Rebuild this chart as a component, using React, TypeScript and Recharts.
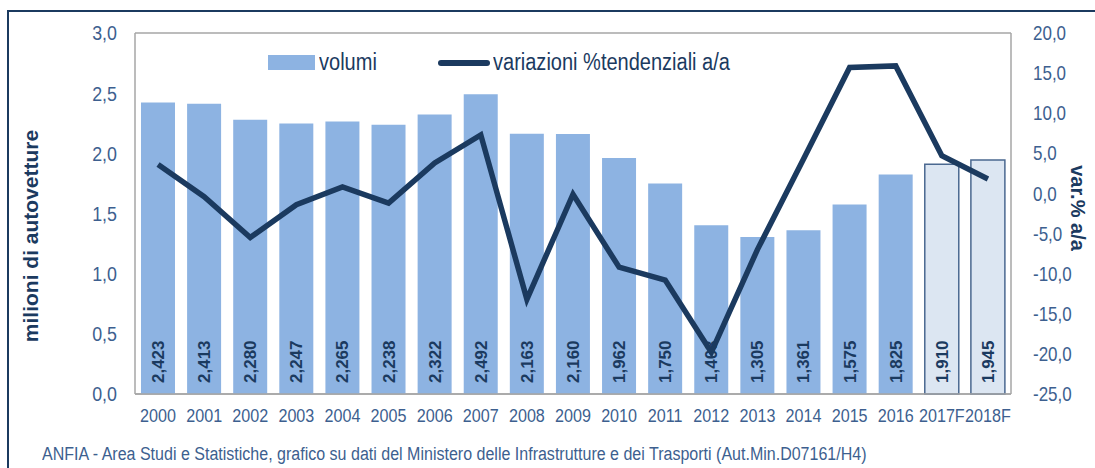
import {
  ComposedChart,
  Bar,
  Line,
  XAxis,
  YAxis,
  CartesianGrid,
  Cell,
  LabelList,
} from "recharts";

const years = [
  "2000", "2001", "2002", "2003", "2004", "2005", "2006", "2007", "2008", "2009",
  "2010", "2011", "2012", "2013", "2014", "2015", "2016", "2017F", "2018F",
];
// immatricolazioni, migliaia di autovetture
const volumi = [
  2423, 2413, 2280, 2247, 2265, 2238, 2322, 2492, 2163, 2160,
  1962, 1750, 1403, 1305, 1361, 1575, 1825, 1910, 1945,
];
// variazioni % tendenziali a/a
const variazioni = [
  3.6, -0.4, -5.5, -1.4, 0.8, -1.2, 3.8, 7.3, -13.2, -0.1,
  -9.2, -10.8, -19.8, -7.0, 4.3, 15.7, 15.9, 4.7, 1.8,
];
const forecast = ["2017F", "2018F"];
const leftTicks = [0, 0.5, 1, 1.5, 2, 2.5, 3];
const rightTicks = [-25, -20, -15, -10, -5, 0, 5, 10, 15, 20];

const data = years.map((y, i) => ({
  anno: y,
  volumi: volumi[i] / 1000,
  label: volumi[i],
  variazione: variazioni[i],
}));

const NAVY = "#1b3a5f";
const TICK = "#3d5f8f";
const BAR = "#8db3e2";
const FONT = "'Liberation Sans', Arial, sans-serif";
const NARROW = 0.85;

const comma = (v: number) => v.toFixed(1).replace(".", ",");
const thousands = (v: number) => v.toLocaleString("en-US");

// testo "narrow": Arial Narrow non c'è, comprimo orizzontalmente
const NarrowTick = (props: any) => {
  const { x, y, payload, textAnchor, fontSize, shift, fmt } = props;
  const txt = fmt ? fmt(payload.value) : payload.value;
  return (
    <g transform={`translate(${x},${y}) scale(${NARROW},1)`}>
      <text x={0} y={0} dy={shift} textAnchor={textAnchor} fill={TICK} fontSize={fontSize} fontFamily={FONT}>
        {txt}
      </text>
    </g>
  );
};

const BarLabel = (props: any) => {
  const { x, y, width, height, value } = props;
  const cx = x + width / 2;
  const bottom = y + height - 11;
  return (
    <text
      x={cx}
      y={bottom}
      transform={`rotate(-90 ${cx} ${bottom})`}
      dy={6}
      textAnchor="start"
      fill={NAVY}
      fontSize={17}
      fontWeight="bold"
      fontFamily={FONT}
    >
      {thousands(value)}
    </text>
  );
};

const narrowDiv = (left: number, top: number, size: number, color: string, scale = NARROW) => ({
  position: "absolute" as const,
  left,
  top,
  fontSize: size,
  color,
  whiteSpace: "nowrap" as const,
  lineHeight: `${size + 3}px`,
  transform: `scaleX(${scale})`,
  transformOrigin: "0 0",
});

export default function App() {
  return (
    <div style={{ position: "relative", width: 1095, height: 468, fontFamily: FONT, background: "#fff" }}>
      <style>{`body{margin:0}`}</style>
      <div
        style={{
          position: "absolute",
          left: 7,
          top: 10,
          right: 0,
          bottom: 0,
          borderLeft: `2px solid ${NAVY}`,
          borderTop: `2px solid ${NAVY}`,
        }}
      />
      <ComposedChart
        width={1095}
        height={468}
        data={data}
        margin={{ top: 33, right: 0, bottom: 0, left: 0 }}
        barCategoryGap="13%"
        style={{ position: "absolute", left: 0, top: 0 }}
      >
        <CartesianGrid vertical={false} stroke="#a6a6a6" strokeWidth={1.5} />
        <XAxis
          dataKey="anno"
          height={74}
          axisLine={{ stroke: "#a6a6a6", strokeWidth: 1.5 }}
          tickLine={false}
          interval={0}
          tickMargin={8}
          tick={<NarrowTick fontSize={19} shift="0.71em" />}
        />
        <YAxis
          yAxisId="left"
          width={135}
          domain={[0, 3]}
          ticks={leftTicks}
          tickFormatter={comma}
          axisLine={{ stroke: "#a6a6a6", strokeWidth: 1.5 }}
          tickLine={false}
          tickMargin={12}
          tick={<NarrowTick fontSize={21} fmt={comma} shift="0.355em" />}
        />
        <YAxis
          yAxisId="right"
          orientation="right"
          width={84}
          domain={[-25, 20]}
          ticks={rightTicks}
          tickFormatter={comma}
          axisLine={{ stroke: "#a6a6a6", strokeWidth: 1.5 }}
          tickLine={false}
          tickMargin={16}
          tick={<NarrowTick fontSize={20} fmt={comma} shift="0.355em" />}
        />
        <Bar yAxisId="left" dataKey="volumi" isAnimationActive={false}>
          {data.map((d) => (
            <Cell
              key={d.anno}
              fill={forecast.includes(d.anno) ? "#dce6f2" : BAR}
              stroke={forecast.includes(d.anno) ? "#4a6890" : "none"}
              strokeWidth={1.5}
            />
          ))}
          <LabelList dataKey="label" content={BarLabel} />
        </Bar>
        <Line
          yAxisId="right"
          dataKey="variazione"
          type="linear"
          stroke={NAVY}
          strokeWidth={5.5}
          strokeLinejoin="miter"
          dot={false}
          isAnimationActive={false}
        />
      </ComposedChart>

      {/* legenda */}
      <div style={{ position: "absolute", left: 268, top: 55, width: 47, height: 15, background: BAR }} />
      <div style={narrowDiv(319, 49, 23, NAVY, 0.87)}>volumi</div>
      <div
        style={{
          position: "absolute",
          left: 438,
          top: 60,
          width: 52,
          height: 6,
          borderRadius: 3,
          background: NAVY,
        }}
      />
      <div style={narrowDiv(493, 49, 23, NAVY, 0.87)}>variazioni %tendenziali a/a</div>

      {/* titoli assi */}
      <div
        style={{
          position: "absolute",
          left: 31,
          top: 236,
          transform: "translate(-50%, -50%) rotate(-90deg)",
          whiteSpace: "nowrap",
          fontWeight: "bold",
          fontSize: 21,
          color: NAVY,
        }}
      >
        milioni di autovetture
      </div>
      <div
        style={{
          position: "absolute",
          left: 1077,
          top: 208,
          transform: "translate(-50%, -50%) rotate(90deg)",
          whiteSpace: "nowrap",
          fontWeight: "bold",
          fontSize: 20,
          color: NAVY,
        }}
      >
        var.% a/a
      </div>

      {/* fonte */}
      <div style={narrowDiv(42, 444, 18, TICK, 0.89)}>
        ANFIA - Area Studi e Statistiche, grafico su dati del Ministero delle Infrastrutture e dei Trasporti (Aut.Min.D07161/H4)
      </div>
    </div>
  );
}
